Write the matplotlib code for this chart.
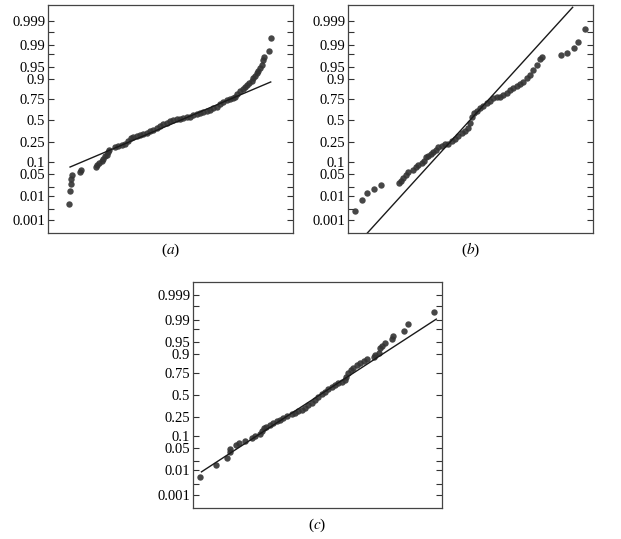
import numpy as np
import matplotlib
matplotlib.use("Agg")
import matplotlib.pyplot as plt
from statistics import NormalDist

plt.rcParams['font.family'] = 'serif'
plt.rcParams['font.serif'] = ['Liberation Serif', 'DejaVu Serif']
plt.rcParams['mathtext.fontset'] = 'stix'

# probability tick labels
prob_ticks = [0.001, 0.01, 0.05, 0.1, 0.25, 0.5, 0.75, 0.9, 0.95, 0.99, 0.999]
prob_labels = ['0.001', '0.01', '0.05', '0.1', '0.25', '0.5', '0.75', '0.9', '0.95', '0.99', '0.999']
prob_minor = [0.003, 0.02, 0.98, 0.997]

# (a) data positions (x, arbitrary units) and normal scores
a_x = [8.7, 9.0, 9.3, 9.5, 9.7, 13.1, 13.5, 19.5, 20.1, 20.8, 21.9, 22.6, 23.3, 23.9,
       24.6, 24.8, 27.3, 28.7, 30.1, 31.4, 32.8, 33.7, 34.8, 36.2, 37.6, 38.9, 40.3,
       41.6, 43.0, 44.4, 45.7, 47.1, 48.4, 49.8, 51.2, 52.5, 53.9, 55.2, 56.6, 58.0,
       59.3, 60.7, 62.0, 63.4, 64.8, 66.1, 67.5, 68.8, 70.2, 71.6, 72.9, 74.3, 75.6,
       76.3, 77.3, 78.4, 79.5, 80.4, 81.4, 82.2, 83.1, 83.8, 84.5, 85.2, 85.9, 86.5,
       87.2, 87.9, 88.3, 90.3, 90.9]
a_z = [-2.57, -2.17, -1.97, -1.81, -1.70, -1.60, -1.53, -1.45, -1.39, -1.32, -1.26, -1.19,
       -1.11, -1.06, -0.96, -0.91, -0.83, -0.80, -0.77, -0.72, -0.65, -0.55, -0.52, -0.47,
       -0.44, -0.42, -0.39, -0.34, -0.29, -0.24, -0.16, -0.12, -0.08, -0.03, 0.02, 0.06,
       0.06, 0.09, 0.10, 0.12, 0.16, 0.21, 0.23, 0.26, 0.30, 0.33, 0.38, 0.43, 0.50, 0.57,
       0.64, 0.66, 0.68, 0.74, 0.81, 0.90, 0.97, 1.03, 1.09, 1.15, 1.22, 1.31, 1.38, 1.46,
       1.54, 1.62, 1.72, 1.87, 1.95, 2.15, 2.56]
a_line_x = [9.0, 90.9]
a_line_z = [-1.44, 1.19]

# (b)
b_x = [2.9, 5.9, 7.6, 10.6, 13.5, 21.0, 21.6, 22.6, 23.7, 24.5, 26.7, 27.6, 28.7, 30.1,
       31.0, 31.8, 32.8, 33.9, 34.8, 35.9, 36.9, 38.2, 39.6, 41.0, 42.3, 43.7, 45.0, 46.4,
       47.8, 49.1, 49.8, 50.5, 51.4, 52.5, 53.9, 55.2, 56.6, 58.0, 59.3, 60.7, 62.0, 63.4,
       64.8, 66.1, 67.5, 68.8, 70.2, 71.6, 72.9, 74.3, 75.6, 77.0, 78.4, 79.0, 86.8, 89.5,
       92.2, 94.0, 96.7]
b_z = [-2.81, -2.45, -2.24, -2.12, -2.01, -1.93, -1.86, -1.78, -1.70, -1.60, -1.54, -1.45,
       -1.37, -1.32, -1.26, -1.13, -1.09, -1.04, -0.96, -0.91, -0.83, -0.78, -0.74, -0.72,
       -0.65, -0.58, -0.49, -0.39, -0.32, -0.22, -0.08, 0.12, 0.23, 0.30, 0.38, 0.45, 0.53,
       0.61, 0.68, 0.72, 0.74, 0.78, 0.84, 0.93, 0.99, 1.05, 1.12, 1.20, 1.31, 1.41, 1.56,
       1.72, 1.89, 1.95, 2.03, 2.10, 2.25, 2.44, 2.82]
b_line_x = [7.9, 91.7]
b_line_z = [-3.48, 3.50]

# (c)
c_x = [2.7, 9.1, 13.7, 14.8, 15.0, 17.4, 18.3, 20.8, 23.5, 24.8, 26.8, 27.7, 28.5, 29.5,
       30.9, 32.2, 33.6, 34.9, 36.2, 37.6, 39.6, 40.9, 42.3, 43.6, 45.0, 46.3, 47.7, 49.0,
       50.3, 51.7, 53.0, 54.4, 55.7, 57.0, 58.4, 59.7, 61.1, 61.5, 62.4, 63.4, 64.4, 65.8,
       67.1, 68.5, 69.8, 72.5, 73.2, 74.5, 75.2, 75.8, 77.2, 79.9, 80.5, 84.6, 86.2, 96.9]
c_z = [-2.55, -2.16, -1.96, -1.78, -1.68, -1.54, -1.49, -1.44, -1.34, -1.27, -1.20, -1.10,
       -1.03, -0.98, -0.93, -0.88, -0.82, -0.77, -0.70, -0.65, -0.59, -0.57, -0.51, -0.46,
       -0.39, -0.31, -0.24, -0.15, -0.05, 0.02, 0.10, 0.18, 0.26, 0.31, 0.36, 0.41, 0.46,
       0.57, 0.67, 0.77, 0.85, 0.93, 1.00, 1.06, 1.10, 1.18, 1.24, 1.31, 1.47, 1.51, 1.62,
       1.75, 1.82, 1.98, 2.21, 2.57]
c_line_x = [3.4, 97.7]
c_line_z = [-2.38, 2.35]

nd = NormalDist()


def prob_axes(ax, xs, zs, lx, lz, label, zlim):
    ax.plot(xs, zs, 'o', color='#333333', markersize=4.6, markeredgewidth=0, alpha=0.9)
    ax.plot(lx, lz, '-', color='#1a1a1a', linewidth=1.0)
    ax.set_xlim(0, 100)
    ax.set_ylim(*zlim)
    ax.set_yticks([nd.inv_cdf(p) for p in prob_ticks])
    ax.set_yticklabels(prob_labels, fontsize=10.5)
    ax.set_yticks([nd.inv_cdf(p) for p in prob_minor], minor=True)
    ax.set_xticks([])
    ax.tick_params(axis='y', which='both', direction='in', left=True, right=True,
                   length=4, width=0.8, color='#333333', pad=2)
    for s in ax.spines.values():
        s.set_linewidth(0.9)
        s.set_color('#444444')
    ax.text(0.5, -0.075, label, transform=ax.transAxes, ha='center', va='center',
            fontsize=11)


fig = plt.figure(figsize=(6.21, 5.39), dpi=100)

ax_a = fig.add_axes([48/621, 1 - 233/539, 245/621, 228/539])
prob_axes(ax_a, a_x, a_z, a_line_x, a_line_z, '($a$)', (-3.48, 3.57))

ax_b = fig.add_axes([348/621, 1 - 233/539, 245/621, 228/539])
prob_axes(ax_b, b_x, b_z, b_line_x, b_line_z, '($b$)', (-3.48, 3.57))

ax_c = fig.add_axes([193/621, 1 - 508/539, 249/621, 226/539])
prob_axes(ax_c, c_x, c_z, c_line_x, c_line_z, '($c$)', (-3.50, 3.50))

fig.savefig('out.png', dpi=100)
